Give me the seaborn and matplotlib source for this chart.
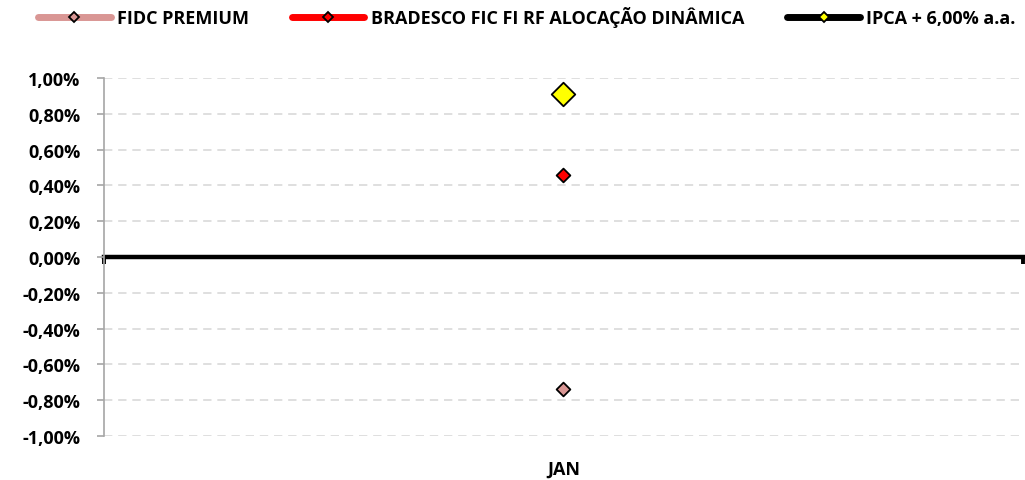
import matplotlib
matplotlib.use("Agg")
import matplotlib.pyplot as plt
from matplotlib.lines import Line2D
from matplotlib.ticker import FuncFormatter, MultipleLocator
import seaborn as sns
import pandas as pd

# dados (rentabilidade mensal, em %)
meses = ["JAN"]
series = ["FIDC PREMIUM", "BRADESCO FIC FI RF ALOCAÇÃO DINÂMICA", "IPCA + 6,00% a.a."]
fidc_premium = [-0.74]
bradesco_alocacao = [0.46]
ipca_6 = [0.91]

cor_linha = {series[0]: "#d99694", series[1]: "#ff0000", series[2]: "#000000"}
cor_marcador = {series[0]: "#d99694", series[1]: "#ff0000", series[2]: "#ffff00"}
tam_marcador = {series[0]: 7.0, series[1]: 7.0, series[2]: 12.0}

df = pd.DataFrame({
    "mes": meses * 3,
    "serie": [series[0]] * len(meses) + [series[1]] * len(meses) + [series[2]] * len(meses),
    "valor": fidc_premium + bradesco_alocacao + ipca_6,
})

sns.set_theme(style="white")
plt.rcParams["font.family"] = ["Open Sans", "DejaVu Sans"]
plt.rcParams["font.weight"] = "bold"
plt.rcParams["text.color"] = "black"

fig = plt.figure(figsize=(10.25, 4.81), dpi=100)
ax = fig.add_axes([0.1015, 0.0915, 0.8965, 0.7443])

for s in series:
    sub = df[df["serie"] == s]
    sns.scatterplot(data=sub, x="mes", y="valor", ax=ax, marker="D",
                    s=tam_marcador[s] ** 2, color=cor_marcador[s],
                    edgecolor="black", linewidth=1.3, zorder=5, legend=False)

ax.set_xlim(-0.5, 0.5)
ax.set_ylim(-1.0, 1.0)
ax.yaxis.set_major_locator(MultipleLocator(0.2))
ax.yaxis.set_major_formatter(FuncFormatter(lambda v, p: f"{v:.2f}%".replace(".", ",").replace("-0,00", "0,00")))
ax.grid(False)
ax.yaxis.grid(True, color="#d9d9d9", linewidth=1.2, linestyle=(0, (5, 3.5)))
ax.set_xlabel("")
ax.set_ylabel("")

for lado in ["top", "right", "bottom"]:
    ax.spines[lado].set_visible(False)
ax.spines["left"].set_color("#a6a6a6")
ax.spines["left"].set_linewidth(1.2)
ax.tick_params(axis="y", left=True, length=5, width=1.2, color="#a6a6a6",
               pad=12, labelsize=13, labelcolor="black")
ax.tick_params(axis="x", bottom=True, length=0, pad=17, labelsize=13, labelcolor="black")
for lbl in ax.get_xticklabels() + ax.get_yticklabels():
    lbl.set_fontweight("bold")

fig.canvas.draw()
for tk in ax.yaxis.get_major_ticks():
    if abs(tk.get_loc()) < 1e-9:
        tk.gridline.set_visible(False)

# eixo horizontal no zero
eixo0 = ax.secondary_xaxis(0.5)
eixo0.set_alignment("bottom")
eixo0.set_xticks([-0.5, 0.5])
eixo0.tick_params(axis="x", length=5, width=2.8, color="black", direction="out",
                  labelbottom=False, labeltop=False)
eixo0.spines["bottom"].set_linewidth(3.2)
eixo0.spines["bottom"].set_color("black")

alcas = [Line2D([], [], color=cor_linha[s], linewidth=5, solid_capstyle="round",
                marker="D", markersize=5.5, markerfacecolor=cor_marcador[s],
                markeredgecolor="black", markeredgewidth=1.3) for s in series]
fig.legend(alcas, series, loc="center", bbox_to_anchor=(0.514, 0.963), ncol=3,
           frameon=False, handlelength=4.0, columnspacing=2.4, handletextpad=0.35,
           labelcolor="black", prop={"size": 13, "weight": "bold"})

fig.savefig("out.png", dpi=100)
